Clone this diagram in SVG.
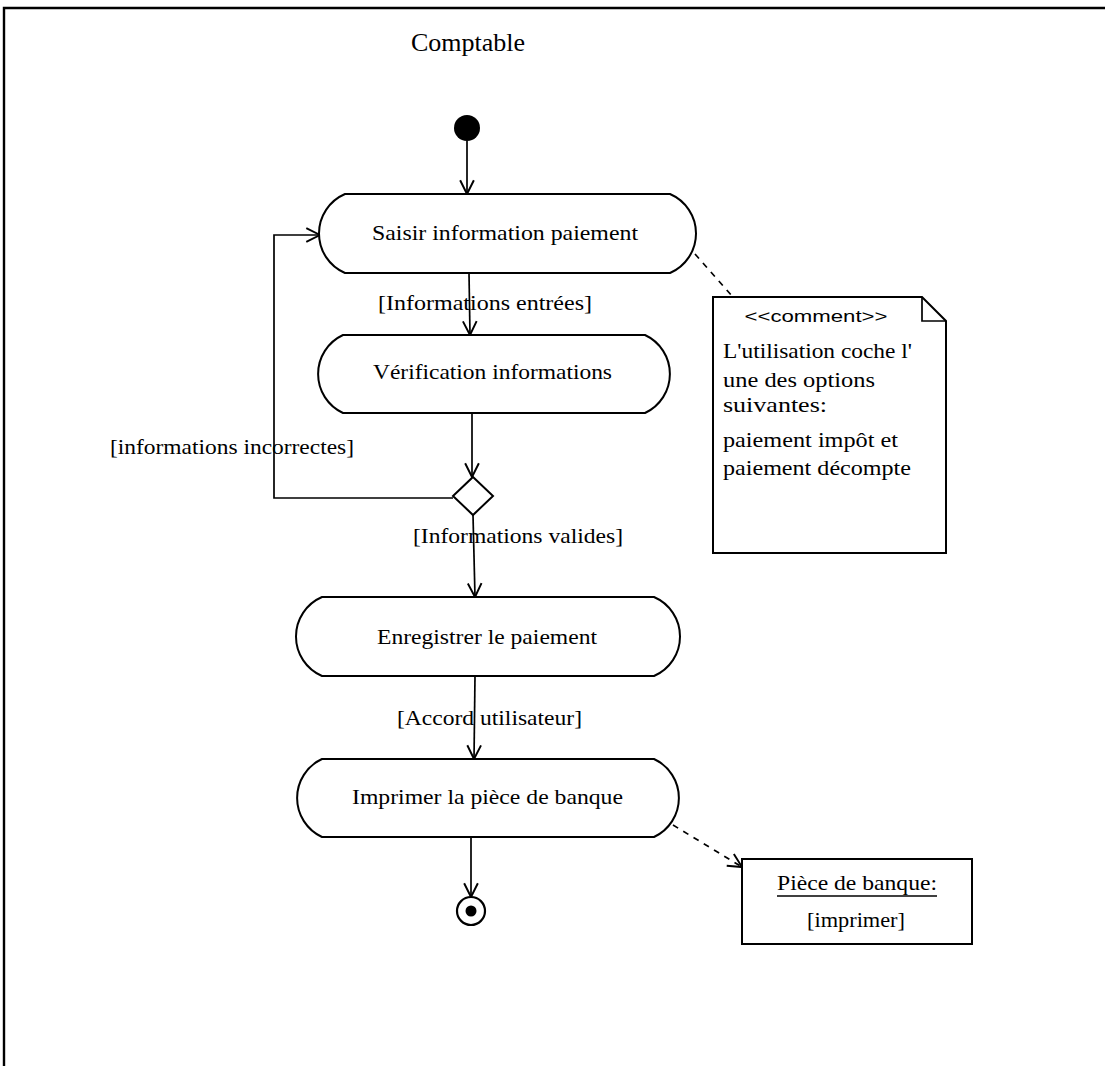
<svg xmlns="http://www.w3.org/2000/svg" width="1105" height="1066" viewBox="0 0 1105 1066">
<defs>
<style>
.ln{fill:none;stroke:#000;stroke-width:1.7}
.dash{fill:none;stroke:#000;stroke-width:1.7;stroke-dasharray:6 6}
.act{fill:#fff;stroke:#000;stroke-width:2}
.t{font-family:"Liberation Serif","Times New Roman",serif;font-size:21.5px;fill:#000}
.s{font-family:"Liberation Sans",Arial,sans-serif;font-size:16px;fill:#000}
</style>
<marker id="arr" markerUnits="userSpaceOnUse" markerWidth="16" markerHeight="16" viewBox="0 0 14 14" refX="13" refY="7" orient="auto">
<path d="M1,1 L13,7 L1,13" fill="none" stroke="#000" stroke-width="1.7"/>
</marker>
</defs>
<rect width="1105" height="1066" fill="#fff"/>
<g id="frame">
<path d="M4,1066 V8 H1105" fill="none" stroke="#000" stroke-width="2.4"/>
<text x="468" y="51" text-anchor="middle" font-family="Liberation Serif,Times New Roman,serif" font-size="26">Comptable</text>
</g>
<g id="connectors">
<line class="ln" x1="467" y1="141" x2="467" y2="194" marker-end="url(#arr)"/>
<line class="ln" x1="469" y1="273" x2="470" y2="335" marker-end="url(#arr)"/>
<line class="ln" x1="472" y1="413" x2="472" y2="477" marker-end="url(#arr)"/>
<polyline class="ln" points="453,498 274,498 274,235 320,235" marker-end="url(#arr)"/>
<line class="ln" x1="473" y1="515" x2="475" y2="597" marker-end="url(#arr)"/>
<line class="ln" x1="475" y1="676" x2="474" y2="759" marker-end="url(#arr)"/>
<line class="ln" x1="471" y1="837" x2="471" y2="897" marker-end="url(#arr)"/>
<line class="dash" x1="695" y1="254" x2="732" y2="296"/>
<line class="dash" x1="673" y1="825" x2="742" y2="867" marker-end="url(#arr)"/>
<text class="t" x="378" y="310" textLength="214" lengthAdjust="spacingAndGlyphs">[Informations entrées]</text>
<text class="t" x="110" y="454" textLength="244" lengthAdjust="spacingAndGlyphs">[informations incorrectes]</text>
<text class="t" x="413" y="543" textLength="210" lengthAdjust="spacingAndGlyphs">[Informations valides]</text>
<text class="t" x="397" y="725" textLength="185" lengthAdjust="spacingAndGlyphs">[Accord utilisateur]</text>
</g>
<g id="start">
<circle cx="467" cy="128" r="13" fill="#000"/>
</g>
<g id="saisir">
<path class="act" d="M345,194 H670 A43 43 0 0 1 670,273 H345 A43 43 0 0 1 345,194 Z"/>
<text class="t" x="372" y="240" textLength="266" lengthAdjust="spacingAndGlyphs">Saisir information paiement</text>
</g>
<g id="verification">
<path class="act" d="M343,335 H645 A43 43 0 0 1 645,413 H343 A43 43 0 0 1 343,335 Z"/>
<text class="t" x="373" y="379" textLength="239" lengthAdjust="spacingAndGlyphs">Vérification informations</text>
</g>
<g id="decision">
<polygon points="473,477 493,496 473,515 453,496" fill="#fff" stroke="#000" stroke-width="2"/>
</g>
<g id="enregistrer">
<path class="act" d="M322,597 H654 A43 43 0 0 1 654,676 H322 A43 43 0 0 1 322,597 Z"/>
<text class="t" x="377" y="644" textLength="220" lengthAdjust="spacingAndGlyphs">Enregistrer le paiement</text>
</g>
<g id="imprimer">
<path class="act" d="M322,759 H654 A43 43 0 0 1 654,837 H322 A43 43 0 0 1 322,759 Z"/>
<text class="t" x="352" y="804" textLength="271" lengthAdjust="spacingAndGlyphs">Imprimer la pièce de banque</text>
</g>
<g id="end">
<circle cx="471" cy="911" r="14" fill="#fff" stroke="#000" stroke-width="2.2"/>
<circle cx="471" cy="911" r="5.5" fill="#000"/>
</g>
<g id="note">
<path d="M713,297 H922 L946,321 V553 H713 Z" fill="#fff" stroke="#000" stroke-width="2"/>
<path d="M922,297 V321 H946" fill="none" stroke="#000" stroke-width="1.7"/>
<text class="s" x="816" y="322" text-anchor="middle" textLength="143" lengthAdjust="spacingAndGlyphs">&lt;&lt;comment&gt;&gt;</text>
<text class="t" x="723" y="358" textLength="189" lengthAdjust="spacingAndGlyphs">L'utilisation coche l'</text>
<text class="t" x="723" y="387" textLength="152" lengthAdjust="spacingAndGlyphs">une des options</text>
<text class="t" x="723" y="412" textLength="104" lengthAdjust="spacingAndGlyphs">suivantes:</text>
<text class="t" x="723" y="447" textLength="175" lengthAdjust="spacingAndGlyphs">paiement impôt et</text>
<text class="t" x="723" y="475" textLength="188" lengthAdjust="spacingAndGlyphs">paiement décompte</text>
</g>
<g id="piece">
<rect x="742" y="859" width="230" height="85" fill="#fff" stroke="#000" stroke-width="2"/>
<text class="t" x="777" y="890" textLength="160" lengthAdjust="spacingAndGlyphs">Pièce de banque:</text>
<line x1="777" y1="896" x2="937" y2="896" stroke="#000" stroke-width="1.5"/>
<text class="t" x="807" y="927" textLength="98" lengthAdjust="spacingAndGlyphs">[imprimer]</text>
</g>
</svg>
